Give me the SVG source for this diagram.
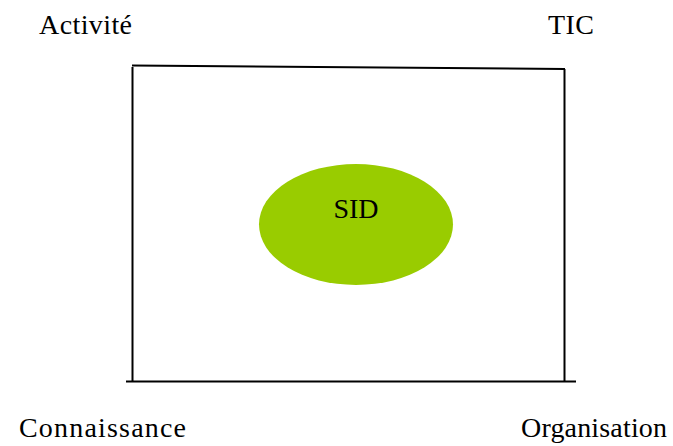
<svg xmlns="http://www.w3.org/2000/svg" width="673" height="446" viewBox="0 0 673 446">
  <style>
    .lbl { font-family: "Liberation Serif", "Times New Roman", serif; font-size: 28px; fill: #000; }
    .edge { stroke: #000; stroke-width: 2; fill: none; stroke-linecap: butt; }
  </style>
  <rect width="673" height="446" fill="#fff"/>

  <!-- frame lines -->
  <g id="connectors">
    <line class="edge" x1="132" y1="65.5" x2="565" y2="69"/>
    <line class="edge" x1="132.5" y1="67" x2="132.5" y2="381"/>
    <line class="edge" x1="564.5" y1="69" x2="564.5" y2="381"/>
    <line class="edge" x1="126" y1="381.5" x2="576" y2="381.5"/>
  </g>

  <!-- corner labels -->
  <g id="activite"><text class="lbl" x="39" y="34" textLength="93">Activité</text></g>
  <g id="tic"><text class="lbl" x="548" y="33.5" textLength="46">TIC</text></g>
  <g id="connaissance"><text class="lbl" x="19" y="437" textLength="167">Connaissance</text></g>
  <g id="organisation"><text class="lbl" x="521" y="437" textLength="146">Organisation</text></g>

  <!-- central node -->
  <g id="sid">
    <ellipse cx="356" cy="224.5" rx="97" ry="60.5" fill="#99cc00"/>
    <text class="lbl" x="356" y="218" text-anchor="middle">SID</text>
  </g>
</svg>
